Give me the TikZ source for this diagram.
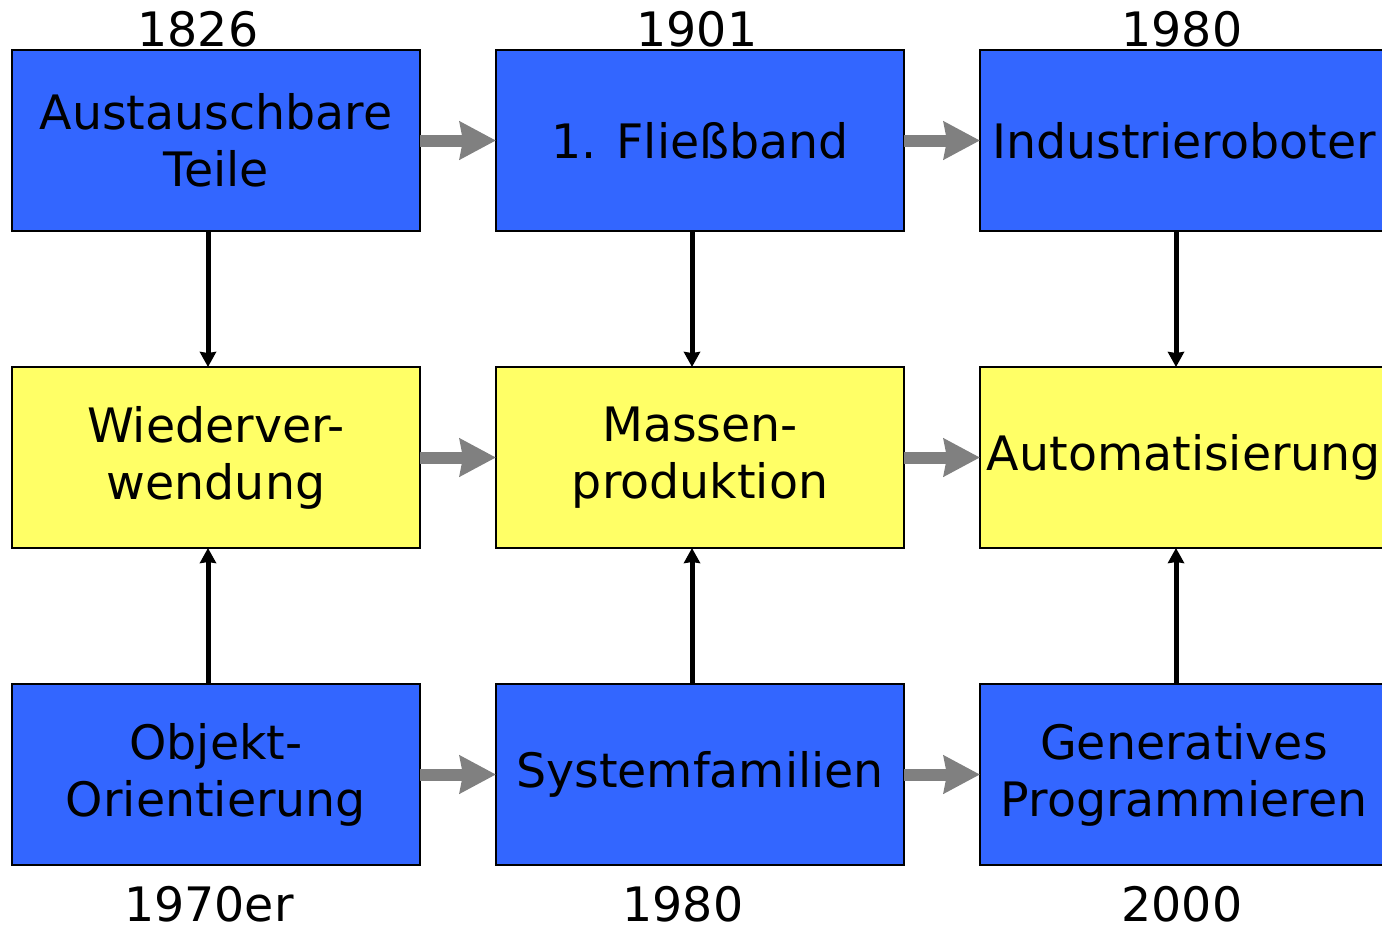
\documentclass[tikz,border=0pt]{standalone}
\usepackage{fontspec}
\setmainfont{DejaVu Sans}
\usepackage{tikz}
\usetikzlibrary{positioning,arrows.meta}
\definecolor{blueboxfill}{HTML}{3366FF}
\definecolor{yellowboxfill}{HTML}{FFFF66}

\begin{document}
\begin{tikzpicture}[
  node distance=2.72cm and 1.52cm,
  bluebox/.style={rectangle, draw=black, line width=1.1pt, fill=blueboxfill,
    minimum width=8.16cm, minimum height=3.62cm, inner sep=0pt, outer sep=0pt,
    align=center, font=\fontsize{27}{32.5}\selectfont},
  yellowbox/.style={bluebox, fill=yellowboxfill},
  yearlbl/.style={anchor=base, inner sep=0pt, font=\fontsize{27}{32.5}\selectfont},
  timearrow/.style={draw=gray, line width=0.24cm, -{Stealth[length=0.72cm, width=0.74cm, inset=0.06cm]}},
  effectarrow/.style={draw=black, line width=0.1cm, -{Stealth[length=0.3cm, width=0.32cm, inset=0.02cm]}}
]
  \useasboundingbox (0,0) rectangle (27.64,-18.58);

  % top row
  \node[bluebox] (austausch) at (4.32,-2.81) {Austauschbare\\Teile};
  \node[bluebox, right=of austausch] (fliessband) {1. Fließband};
  \node[bluebox, right=of fliessband] (roboter) {Industrieroboter};
  % middle row
  \node[yellowbox, below=of austausch] (wiederverw) {Wiederver-\\wendung};
  \node[yellowbox, right=of wiederverw] (massen) {Massen-\\produktion};
  \node[yellowbox, right=of massen] (automat) {Automatisierung};
  % bottom row
  \node[bluebox, below=of wiederverw] (objekt) {Objekt-\\Orientierung};
  \node[bluebox, right=of objekt] (sysfam) {Systemfamilien};
  \node[bluebox, right=of sysfam] (generativ) {Generatives\\Programmieren};

  % years
  \node[yearlbl] (j1826) at (3.96,-0.92) {1826};
  \node[yearlbl] (j1901) at (13.94,-0.92) {1901};
  \node[yearlbl] (j1980a) at (23.64,-0.92) {1980};
  \node[yearlbl] (j1970) at (4.18,-18.42) {1970er};
  \node[yearlbl] (j1980b) at (13.66,-18.42) {1980};
  \node[yearlbl] (j2000) at (23.64,-18.42) {2000};

  % timeline
  \draw[timearrow] (austausch) -- (fliessband);
  \draw[timearrow] (fliessband) -- (roboter);
  \draw[timearrow] (wiederverw) -- (massen);
  \draw[timearrow] (massen) -- (automat);
  \draw[timearrow] (objekt) -- (sysfam);
  \draw[timearrow] (sysfam) -- (generativ);

  % influences
  \draw[effectarrow] ([xshift=-0.16cm]austausch.south) -- ([xshift=-0.16cm]wiederverw.north);
  \draw[effectarrow] ([xshift=-0.16cm]fliessband.south) -- ([xshift=-0.16cm]massen.north);
  \draw[effectarrow] ([xshift=-0.16cm]roboter.south) -- ([xshift=-0.16cm]automat.north);
  \draw[effectarrow] ([xshift=-0.16cm]objekt.north) -- ([xshift=-0.16cm]wiederverw.south);
  \draw[effectarrow] ([xshift=-0.16cm]sysfam.north) -- ([xshift=-0.16cm]massen.south);
  \draw[effectarrow] ([xshift=-0.16cm]generativ.north) -- ([xshift=-0.16cm]automat.south);
\end{tikzpicture}
\end{document}
